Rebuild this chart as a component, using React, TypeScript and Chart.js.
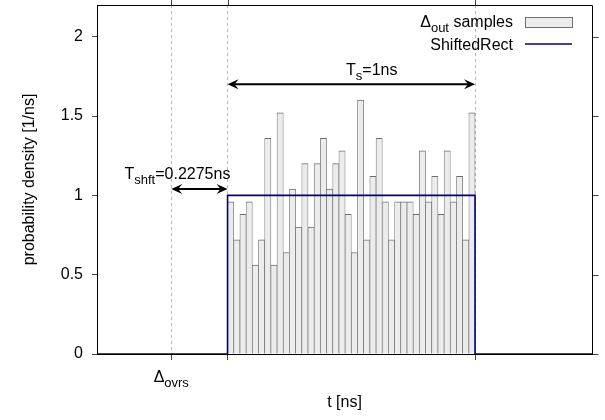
import React, { useEffect, useRef } from 'react';
import { Chart, registerables } from 'chart.js';

Chart.register(...registerables);

// ---- data ----
const binStart = 0.2275; // ns, first histogram bin edge
const binWidth = 0.025; // ns
const densityValues = [
  0.96, 0.72, 0.88, 0.96, 0.56, 0.72, 1.36, 0.56, 1.52, 0.64,
  1.04, 0.8, 1.2, 0.8, 1.2, 1.36, 1.04, 1.2, 1.28, 0.88,
  0.64, 1.6, 0.72, 1.12, 1.36, 0.96, 0.72, 0.96, 0.96, 0.96,
  0.88, 1.28, 0.96, 1.12, 0.88, 1.28, 0.96, 1.12, 0.72, 1.52,
];
const rectT = [-0.3, 0.2275, 0.2275, 1.2275, 1.2275, 1.7];
const rectY = [0, 0, 1, 1, 0, 0];
const xTicks = [0, 0.2275, 1.2275];
const yTicks = [0, 0.5, 1, 1.5, 2];
const xMin = -0.3;
const xMax = 1.7;
const yMin = 0;
const yMax = 2.2;
const tsArrow = { from: 0.2275, to: 1.2275, y: 1.7 };
const tshftArrow = { from: 0, to: 0.2275, y: 1.04 };

const FONT = '"Liberation Sans", Arial, Helvetica, sans-serif';
const BAR_FILL = '#ececec';
const BAR_EDGE = '#6e6e6e';
const NAVY = '#000080';

type Part = { t: string; sub?: boolean };

function drawRich(ctx: CanvasRenderingContext2D, parts: Part[], x: number, y: number, align: 'left' | 'center' | 'right') {
  const main = `16px ${FONT}`;
  const sub = `13px ${FONT}`;
  const widths = parts.map((p) => {
    ctx.font = p.sub ? sub : main;
    return ctx.measureText(p.t).width;
  });
  const total = widths.reduce((a, b) => a + b, 0);
  let cx = align === 'left' ? x : align === 'center' ? x - total / 2 : x - total;
  ctx.textAlign = 'left';
  ctx.textBaseline = 'alphabetic';
  ctx.fillStyle = '#000';
  parts.forEach((p, i) => {
    ctx.font = p.sub ? sub : main;
    ctx.fillText(p.t, cx, p.sub ? y + 5 : y);
    cx += widths[i];
  });
}

function arrowHead(ctx: CanvasRenderingContext2D, x: number, y: number, dir: number) {
  ctx.beginPath();
  ctx.moveTo(x, y);
  ctx.lineTo(x - dir * 11, y - 5);
  ctx.lineTo(x - dir * 7, y);
  ctx.lineTo(x - dir * 11, y + 5);
  ctx.closePath();
  ctx.fill();
}

function drawArrow(ctx: CanvasRenderingContext2D, x1: number, x2: number, y: number) {
  ctx.save();
  ctx.strokeStyle = '#000';
  ctx.fillStyle = '#000';
  ctx.lineWidth = 2;
  ctx.beginPath();
  ctx.moveTo(x1 + 5, y);
  ctx.lineTo(x2 - 5, y);
  ctx.stroke();
  arrowHead(ctx, x1, y, -1);
  arrowHead(ctx, x2, y, 1);
  ctx.restore();
}

const annotPlugin = {
  id: 'annotations',
  afterDraw(chart: any) {
    const ctx: CanvasRenderingContext2D = chart.ctx;
    const xs = chart.scales.x;
    const ys = chart.scales.y;
    const area = chart.chartArea;
    const L = Math.round(area.left) + 0.5;
    const R = Math.round(area.right) + 0.5;
    const T = Math.round(area.top) + 0.5;
    const B = Math.round(area.bottom) + 0.5;
    ctx.save();
    // mirrored outward tick marks on top and right
    ctx.strokeStyle = '#444';
    ctx.lineWidth = 1;
    ctx.beginPath();
    xTicks.forEach((v) => {
      const px = Math.round(xs.getPixelForValue(v)) + 0.5;
      ctx.moveTo(px, T);
      ctx.lineTo(px, T - 6);
    });
    yTicks.forEach((v) => {
      const py = Math.round(ys.getPixelForValue(v)) + 0.5;
      ctx.moveTo(R, py);
      ctx.lineTo(R + 6, py);
    });
    ctx.stroke();
    // plot frame (top / right)
    ctx.strokeStyle = '#000';
    ctx.beginPath();
    ctx.moveTo(L, T);
    ctx.lineTo(R, T);
    ctx.lineTo(R, B);
    ctx.stroke();

    // x tick label Δovrs
    drawRich(ctx, [{ t: 'Δ' }, { t: 'ovrs', sub: true }], xs.getPixelForValue(0), area.bottom + 28, 'center');

    // T_s arrow and label
    const yTs = ys.getPixelForValue(tsArrow.y);
    drawArrow(ctx, xs.getPixelForValue(tsArrow.from), xs.getPixelForValue(tsArrow.to), yTs);
    drawRich(ctx, [{ t: 'T' }, { t: 's', sub: true }, { t: '=1ns' }], xs.getPixelForValue(0.81), yTs - 9, 'center');

    // T_shft arrow and label
    const ySh = ys.getPixelForValue(tshftArrow.y);
    drawArrow(ctx, xs.getPixelForValue(tshftArrow.from), xs.getPixelForValue(tshftArrow.to), ySh);
    drawRich(ctx, [{ t: 'T' }, { t: 'shft', sub: true }, { t: '=0.2275ns' }], xs.getPixelForValue(0.025), ySh - 10, 'center');

    // legend (gnuplot style, top right)
    const textRight = area.right - 79;
    const swL = area.right - 67;
    const swR = area.right - 20;
    const row1 = area.top + 17;
    const row2 = area.top + 39;
    drawRich(ctx, [{ t: 'Δ' }, { t: 'out', sub: true }, { t: ' samples' }], textRight, row1 + 5, 'right');
    ctx.fillStyle = BAR_FILL;
    ctx.fillRect(swL, row1 - 5, swR - swL, 10);
    ctx.strokeStyle = BAR_EDGE;
    ctx.lineWidth = 1;
    ctx.strokeRect(swL + 0.5, row1 - 4.5, swR - swL, 10);
    drawRich(ctx, [{ t: 'ShiftedRect' }], textRight, row2 + 6, 'right');
    ctx.strokeStyle = NAVY;
    ctx.lineWidth = 1.5;
    ctx.beginPath();
    ctx.moveTo(swL, row2);
    ctx.lineTo(swR, row2);
    ctx.stroke();
    ctx.restore();
  },
};

const noPad = (s: any) => {
  s.paddingTop = 0;
  s.paddingBottom = 0;
  s.paddingLeft = 0;
  s.paddingRight = 0;
};

export default function App() {
  const canvasRef = useRef<HTMLCanvasElement | null>(null);

  useEffect(() => {
    const canvas = canvasRef.current;
    if (!canvas) return;
    const barData = densityValues.map((v, i) => ({ x: binStart + binWidth * (i + 0.5), y: v }));
    const lineData = rectT.map((t, i) => ({ x: t, y: rectY[i] }));

    const setXTicks = (s: any) => {
      s.ticks = xTicks.map((v) => ({ value: v }));
    };
    const setYTicks = (s: any) => {
      s.ticks = yTicks.map((v) => ({ value: v }));
    };

    const chart = new Chart(canvas, {
      type: 'bar',
      data: {
        datasets: [
          {
            type: 'bar',
            label: 'samples',
            data: barData as any,
            backgroundColor: BAR_FILL,
            borderColor: BAR_EDGE,
            borderWidth: { top: 1, left: 0.7, right: 0.7, bottom: 0 } as any,
            borderSkipped: false as any,
            barPercentage: 1,
            categoryPercentage: 1,
            order: 1,
          } as any,
          {
            type: 'line',
            label: 'ShiftedRect',
            data: lineData as any,
            borderColor: NAVY,
            borderWidth: 1.6,
            pointRadius: 0,
            fill: false,
            tension: 0,
            order: 0,
          } as any,
        ],
      },
      options: {
        responsive: false,
        animation: false,
        devicePixelRatio: 1,
        layout: { padding: { top: 5, right: 13, left: 0, bottom: 0 } },
        plugins: {
          legend: { display: false },
          tooltip: { enabled: false },
        },
        scales: {
          x: {
            type: 'linear',
            position: 'bottom',
            offset: false,
            min: xMin,
            max: xMax,
            afterBuildTicks: setXTicks,
            afterFit: (s: any) => {
              s.height = 66;
              noPad(s);
            },
            ticks: { callback: () => '', font: { size: 16, family: FONT } },
            grid: {
              offset: false,
              color: '#b8b8b8',
              lineWidth: 1,
              drawTicks: true,
              tickLength: 6,
              tickColor: '#444',
              tickWidth: 1,
            },
            border: { display: true, color: '#000', width: 1, dash: [3, 3] },
            title: {
              display: true,
              text: 't [ns]',
              color: '#000',
              font: { size: 16, family: FONT },
              padding: { top: 0, bottom: 8 },
            },
          },
          y: {
            type: 'linear',
            position: 'left',
            min: yMin,
            max: yMax,
            afterBuildTicks: setYTicks,
            afterFit: (s: any) => {
              s.width = 97;
              noPad(s);
            },
            ticks: {
              color: '#000',
              padding: 9,
              font: { size: 16, family: FONT },
              callback: (v: any) => String(v),
            },
            grid: { drawOnChartArea: false, drawTicks: true, tickLength: 5, tickColor: '#444', color: '#444' },
            border: { display: true, color: '#000', width: 1 },
            title: {
              display: true,
              text: 'probability density [1/ns]',
              color: '#000',
              font: { size: 16, family: FONT },
              padding: { top: 20, bottom: 0 },
            },
          },
        },
      } as any,
      plugins: [annotPlugin as any],
    });
    return () => chart.destroy();
  }, []);

  return (
    <div style={{ position: 'absolute', left: 0, top: 0, width: 605, height: 420, background: '#fff' }}>
      <canvas ref={canvasRef} width={605} height={420} style={{ display: 'block', width: 605, height: 420 }} />
    </div>
  );
}
